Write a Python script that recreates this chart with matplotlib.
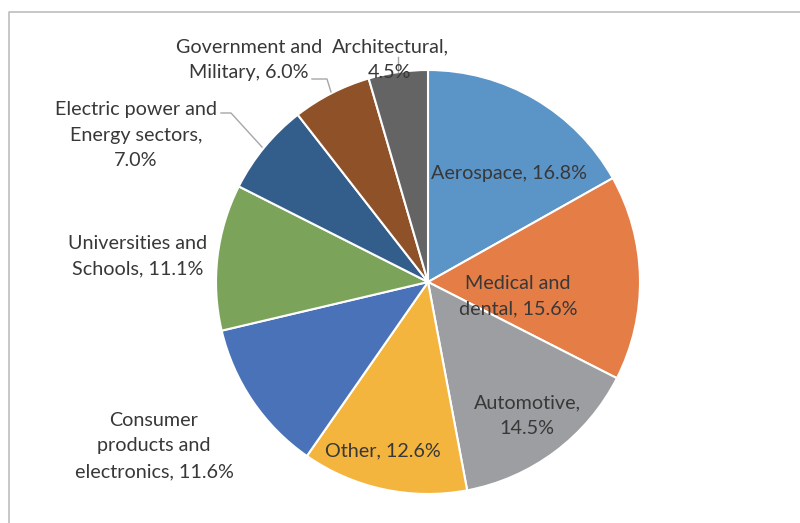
import matplotlib.pyplot as plt
from matplotlib.lines import Line2D

# market share by sector, clockwise from 12 o'clock
sectors = ['Aerospace', 'Medical and\ndental', 'Automotive,\n', 'Other', 'Consumer\nproducts and\nelectronics',
           'Universities and\nSchools', 'Electric power and\nEnergy sectors,\n', 'Government and\nMilitary',
           'Architectural,\n']
shares = [16.8, 15.6, 14.5, 12.6, 11.6, 11.1, 7.0, 6.0, 4.5]
colors = ['#5B94C7', '#E57D47', '#9D9EA1', '#F4B53F', '#4A72B8',
          '#7BA45A', '#335E8C', '#8F5128', '#646464']

W, H = 800, 523
CX, CY, R = 428, 282, 212

plt.rcParams['font.family'] = ['Lato', 'DejaVu Sans']
fig = plt.figure(figsize=(W / 100, H / 100), dpi=100)
ax = fig.add_axes([0, 0, 1, 1])

ax.pie(shares, colors=colors, startangle=90, counterclock=False,
       center=(CX, H - CY), radius=R,
       wedgeprops=dict(edgecolor='white', linewidth=1.5))
ax.set_xlim(0, W)
ax.set_ylim(0, H)
ax.set_aspect('auto')
ax.axis('off')


def label(i, x, y, sep=', '):
    name = sectors[i]
    if name.endswith('\n'):
        txt = name + f'{shares[i]:.1f}%'
    else:
        txt = name + sep + f'{shares[i]:.1f}%'
    ax.text(x, H - y, txt, ha='center', va='center', fontsize=14.2,
            color='#383838', linespacing=1.62)


label(0, 509, 173)
label(1, 518, 296)
label(2, 527, 416)
label(3, 383, 451)
label(4, 154, 446)
label(5, 138, 256)
label(6, 136, 135)
label(7, 249, 60)
label(8, 390, 60)

# leader lines for the labels outside the pie
lc = '#A6A6A6'
ax.plot([312, 327, 331], [H - 79, H - 79, H - 92], color=lc, lw=1)
ax.plot([221, 231, 262], [H - 113, H - 113, H - 147], color=lc, lw=1)
ax.plot([398, 398], [H - 57, H - 72], color=lc, lw=1)

# chart area border
fig.add_artist(Line2D([9 / W, 9 / W, 1], [0, 1 - 12 / H, 1 - 12 / H],
                      transform=fig.transFigure, color='#BDBDBD', lw=1.2))

fig.savefig('out.png', dpi=100)
